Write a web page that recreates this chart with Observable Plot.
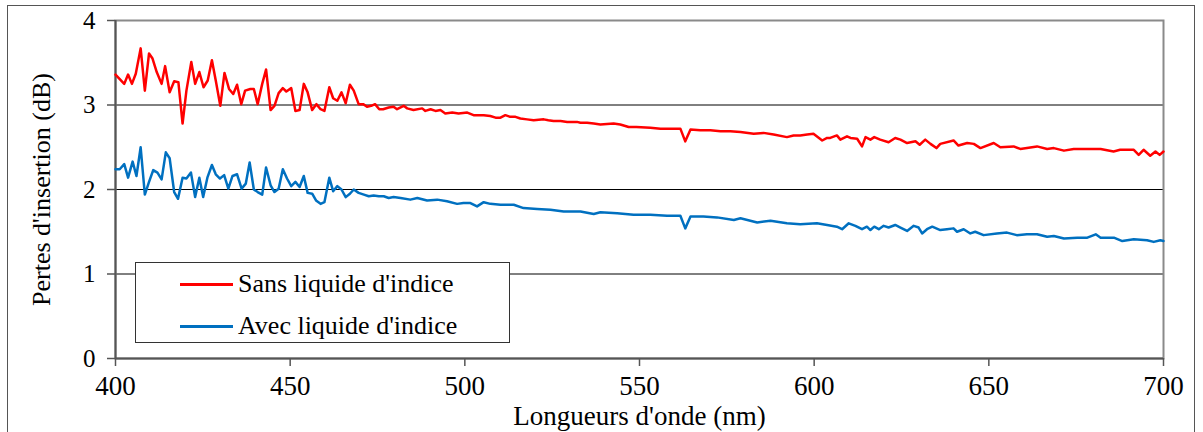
<!DOCTYPE html>
<html>
<head>
<meta charset="utf-8">
<script src="https://cdn.jsdelivr.net/npm/d3@7"></script>
<script src="https://cdn.jsdelivr.net/npm/@observablehq/plot@0.6"></script>
<style>
  html, body { margin: 0; padding: 0; background: #fff; }
  #wrap { position: relative; width: 1203px; height: 432px; overflow: hidden; font-family: "Liberation Serif", Tinos, "Times New Roman", "DejaVu Serif", serif; }
  #outer { position: absolute; left: 7px; top: 5px; width: 1188px; height: 440px; border: 1px solid #555; box-sizing: border-box; }
  #chart { position: absolute; left: 0; top: 0; }
  #legend { position: absolute; left: 135px; top: 262px; width: 375px; height: 81px; border: 1px solid #333; box-sizing: border-box; background: #fff; }
  .item { position: absolute; left: 44px; height: 30px; display: flex; align-items: center; font-size: 26px; color: #000; white-space: nowrap; }
  .sw { width: 53px; height: 3px; margin-right: 5px; }
  #chart svg text { font-family: "Liberation Serif", Tinos, "Times New Roman", "DejaVu Serif", serif; }
</style>
</head>
<body>
<div id="wrap">
  <div id="outer"></div>
  <div id="chart"></div>
  <div id="legend"></div>
</div>
<script>
const seriesNames = ["Sans liquide d'indice", "Avec liquide d'indice"];
const seriesColors = ["#ff0000", "#0070c0"];
const xTicks = [400, 450, 500, 550, 600, 650, 700];
const yTicks = [0, 1, 2, 3, 4];
const xTitle = "Longueurs d'onde (nm)";
const yTitle = "Pertes d'insertion (dB)";

const sansNm = [400.0,402.5,403.6,404.7,405.8,407.2,408.4,409.6,410.6,411.8,413.2,414.2,415.5,416.8,418.0,419.2,420.3,421.7,422.8,424.0,425.2,426.4,427.6,428.7,430.0,431.2,432.5,433.7,434.8,436.0,437.1,438.6,439.6,440.7,442.0,443.1,444.4,445.5,446.7,447.9,448.9,450.3,451.5,452.7,453.9,455.0,456.3,457.5,458.7,459.8,461.2,462.3,463.5,464.7,465.9,467.1,468.2,469.6,470.9,472.0,473.2,474.3,475.5,476.6,478.2,479.6,480.6,482.5,483.5,485.3,487.8,488.7,490.2,491.6,493.0,494.4,496.4,498.2,500.7,502.5,505.4,507.3,508.8,510.2,511.6,513.0,514.5,515.9,517.8,519.7,522.6,523.9,525.4,527.4,529.3,532.1,533.1,535.0,536.9,538.8,542.6,544.5,546.9,549.1,553.1,556.0,558.9,561.7,563.1,564.6,567.4,570.3,573.2,576.0,578.9,582.7,585.5,588.4,592.2,594.1,596.0,598.0,599.8,602.3,603.7,604.6,606.5,607.5,609.4,610.4,612.3,613.7,614.7,616.1,617.2,618.9,621.3,623.2,624.7,626.6,629.0,630.2,631.8,633.3,635.0,636.1,639.9,641.3,643.8,645.7,647.6,651.4,653.3,657.1,659.0,663.8,666.7,668.6,671.5,674.3,678.2,682.0,685.7,687.6,691.5,692.9,694.3,696.2,697.7,698.9,700.0];
const sansDb = [3.36,3.25,3.36,3.25,3.37,3.67,3.17,3.61,3.55,3.39,3.25,3.46,3.15,3.28,3.27,2.78,3.17,3.51,3.25,3.39,3.21,3.29,3.53,3.29,2.99,3.38,3.19,3.13,3.24,3.01,3.17,3.19,3.19,3.01,3.25,3.42,2.94,2.99,3.14,3.20,3.16,3.20,2.93,2.94,3.25,3.15,2.94,3.01,2.95,2.93,3.21,3.08,3.05,3.15,3.02,3.24,3.17,3.01,3.01,2.98,2.99,3.01,2.95,2.95,2.97,2.98,2.95,2.99,2.96,2.94,2.96,2.93,2.95,2.93,2.94,2.90,2.91,2.90,2.91,2.88,2.88,2.87,2.85,2.85,2.88,2.86,2.86,2.84,2.83,2.82,2.83,2.82,2.81,2.81,2.80,2.80,2.79,2.79,2.78,2.77,2.78,2.77,2.74,2.74,2.73,2.72,2.72,2.72,2.57,2.71,2.70,2.70,2.69,2.69,2.68,2.66,2.67,2.65,2.62,2.64,2.64,2.65,2.66,2.58,2.61,2.61,2.64,2.59,2.63,2.61,2.60,2.51,2.62,2.59,2.62,2.59,2.56,2.61,2.59,2.55,2.57,2.53,2.59,2.54,2.49,2.54,2.58,2.52,2.55,2.54,2.49,2.55,2.50,2.51,2.48,2.51,2.48,2.49,2.46,2.48,2.48,2.48,2.45,2.47,2.47,2.41,2.47,2.40,2.45,2.41,2.45];

const avecNm = [400.0,401.2,402.5,403.6,404.9,406.0,407.2,408.4,409.6,410.8,412.0,413.2,414.4,415.5,416.8,417.9,419.2,420.3,421.6,422.8,424.0,425.1,426.3,427.6,428.7,429.9,431.1,432.3,433.5,434.8,436.1,437.3,438.4,439.6,440.7,442.0,443.1,444.4,445.5,446.7,447.9,449.1,450.3,451.5,452.7,453.9,455.0,456.3,457.4,458.7,459.8,461.2,462.3,463.5,464.7,465.9,467.1,468.2,469.6,471.1,472.5,473.9,475.4,476.8,478.2,479.6,481.6,484.4,486.4,489.2,492.1,494.9,497.8,499.6,501.6,503.5,505.4,507.3,510.2,514.0,516.8,520.7,524.5,528.3,533.1,536.9,538.8,543.6,548.3,553.1,557.9,561.7,563.1,564.6,568.3,572.2,577.0,578.9,583.7,587.5,592.2,596.0,600.8,603.7,606.5,608.0,609.9,611.8,613.7,615.1,616.1,617.2,618.5,619.9,621.3,623.2,624.7,626.6,628.5,629.9,630.9,632.3,633.8,636.1,638.0,639.9,640.9,642.8,644.7,646.1,648.5,652.3,655.2,658.0,660.9,663.8,666.7,668.6,671.5,675.3,678.2,680.6,682.0,685.8,688.2,691.5,695.3,697.2,699.1,700.0];
const avecDb = [2.24,2.24,2.30,2.14,2.33,2.16,2.50,1.94,2.09,2.23,2.20,2.12,2.44,2.37,1.97,1.89,2.14,2.13,2.20,1.91,2.14,1.91,2.14,2.29,2.18,2.13,2.17,2.01,2.16,2.18,2.01,2.07,2.32,2.00,1.97,1.94,2.26,2.05,1.97,2.01,2.24,2.13,2.04,2.09,2.03,2.16,1.96,1.95,1.87,1.83,1.85,2.14,1.98,2.04,2.00,1.91,1.95,2.00,1.96,1.94,1.92,1.93,1.92,1.92,1.90,1.91,1.90,1.88,1.90,1.87,1.88,1.86,1.83,1.84,1.84,1.80,1.85,1.83,1.82,1.82,1.78,1.77,1.76,1.74,1.74,1.71,1.73,1.72,1.70,1.70,1.69,1.69,1.54,1.68,1.68,1.67,1.64,1.66,1.61,1.63,1.60,1.59,1.60,1.58,1.56,1.53,1.60,1.57,1.53,1.56,1.52,1.56,1.53,1.57,1.55,1.58,1.55,1.51,1.57,1.55,1.48,1.53,1.56,1.52,1.53,1.54,1.50,1.53,1.48,1.50,1.46,1.48,1.49,1.46,1.47,1.47,1.44,1.45,1.42,1.43,1.43,1.47,1.43,1.43,1.39,1.41,1.40,1.38,1.40,1.39];

const sansData = sansNm.map((x, i) => ({x, y: sansDb[i]}));
const avecData = avecNm.map((x, i) => ({x, y: avecDb[i]}));

const chart = Plot.plot({
  width: 1203,
  height: 432,
  marginLeft: 115,
  marginRight: 40,
  marginTop: 20,
  marginBottom: 74,
  style: { background: "transparent", color: "#000", overflow: "visible" },
  x: { domain: [400, 700] },
  y: { domain: [0, 4] },
  marks: [
    Plot.ruleY([1, 2, 3], { stroke: "#000", strokeWidth: 1 }),
    Plot.frame({ stroke: "#8a8a8a", strokeWidth: 2 }),
    Plot.ruleX([400], { stroke: "#555", strokeWidth: 2 }),
    Plot.ruleY([0], { stroke: "#555", strokeWidth: 2 }),
    Plot.axisY({ ticks: yTicks, tickSize: 8, tickPadding: 12, tickFormat: d => String(d), fontSize: 25, stroke: "#555", strokeWidth: 1.5, label: null }),
    Plot.axisX({ ticks: xTicks, tickSize: 8, tickPadding: 9, tickFormat: d => String(d), fontSize: 27, stroke: "#555", strokeWidth: 1.5, label: null }),
    Plot.line(sansData, { x: "x", y: "y", stroke: seriesColors[0], strokeWidth: 2.5 }),
    Plot.line(avecData, { x: "x", y: "y", stroke: seriesColors[1], strokeWidth: 2.5 }),
    Plot.text([xTitle], { frameAnchor: "bottom", text: d => d, textAnchor: "middle", dy: 58, lineAnchor: "middle", fontSize: 27, fill: "#000" }),
    Plot.text([yTitle], { frameAnchor: "left", text: d => d, textAnchor: "middle", rotate: -90, dx: -74, lineAnchor: "middle", fontSize: 26, fill: "#000" })
  ]
});
document.getElementById("chart").appendChild(chart);

const legend = document.getElementById("legend");
seriesNames.forEach((name, i) => {
  const item = document.createElement("div");
  item.className = "item";
  item.style.top = (i === 0 ? 6 : 48) + "px";
  const sw = document.createElement("div");
  sw.className = "sw";
  sw.style.background = seriesColors[i];
  const label = document.createElement("span");
  label.textContent = name;
  item.appendChild(sw);
  item.appendChild(label);
  legend.appendChild(item);
});
</script>
</body>
</html>
